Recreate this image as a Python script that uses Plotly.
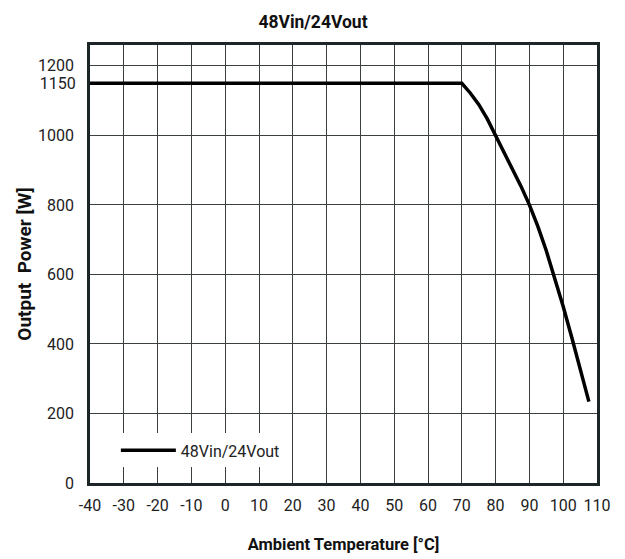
import plotly.graph_objects as go

# Data
temperature_c = [-40, 70, 72.5, 75, 77.5, 80, 82.5, 85, 87.5, 90, 92.5, 95, 97.5, 100, 102.5, 105, 107.6]
output_power_w = [1150, 1150, 1122, 1089, 1048, 1000, 954, 905, 854, 800, 738, 668, 590, 508, 420, 330, 234]
series_name = "48Vin/24Vout"
x_ticks = list(range(-40, 111, 10))
y_grid_ticks = [0, 200, 400, 600, 800, 1000, 1200]
y_extra_ticks = [1150]

FONT = "Roboto, Liberation Sans, Arial, sans-serif"
GRID = "#3a4040"
BORDER = "#1c2626"

fig = go.Figure()
fig.add_trace(go.Scatter(
    x=temperature_c, y=output_power_w, mode="lines", name=series_name,
    line=dict(color="black", width=3.5),
))
# invisible trace to activate the secondary y axis (1150 label)
fig.add_trace(go.Scatter(
    x=[temperature_c[0]], y=[output_power_w[0]], yaxis="y2", mode="lines",
    showlegend=False, hoverinfo="skip", line=dict(color="rgba(0,0,0,0)"),
))

fig.update_layout(
    width=625, height=559,
    margin=dict(l=82, r=36, t=37, b=84),
    paper_bgcolor="white", plot_bgcolor="white",
    font=dict(family=FONT, size=16, color="#222"),
    title=dict(text="<b>48Vin/24Vout</b>", x=0.488, xanchor="center",
               y=0.975, yanchor="middle", font=dict(family=FONT, size=17.5, color="#111")),
    xaxis=dict(
        range=[-40, 110], tickmode="array", tickvals=x_ticks,
        ticktext=[str(v) for v in x_ticks],
        showgrid=True, gridcolor=GRID, gridwidth=1,
        showline=True, linecolor=BORDER, linewidth=2.5, mirror=True,
        ticks="outside", ticklen=6, tickcolor="rgba(0,0,0,0)", zeroline=False,
        automargin=False,
        tickfont=dict(family=FONT, size=16, color="#222"),
        title=dict(text="<b>Ambient Temperature [°C]</b>", standoff=25,
                   font=dict(family=FONT, size=16.5, color="#111")),
    ),
    yaxis=dict(
        range=[0, 1260], tickmode="array", tickvals=y_grid_ticks,
        showgrid=True, gridcolor=GRID, gridwidth=1,
        showline=True, linecolor=BORDER, linewidth=2.5, mirror=True,
        ticks="outside", ticklen=10, tickcolor="rgba(0,0,0,0)", zeroline=False,
        automargin=False,
        tickfont=dict(family=FONT, size=16, color="#222"),
        title=dict(text="<b>Output  Power [W]</b>", standoff=2,
                   font=dict(family=FONT, size=19, color="#111")),
    ),
    yaxis2=dict(
        range=[0, 1260], overlaying="y", side="left", tickmode="array",
        tickvals=y_extra_ticks, showgrid=False, showline=False, zeroline=False,
        ticks="outside", ticklen=10, tickcolor="rgba(0,0,0,0)", automargin=False,
        tickfont=dict(family=FONT, size=16, color="#222"),
    ),
    legend=dict(
        x=0.051, y=0.0355, xanchor="left", yanchor="bottom",
        bgcolor="white", borderwidth=0,
        font=dict(family=FONT, size=16, color="#222"),
        itemwidth=55, tracegroupgap=0,
    ),
    showlegend=True,
)

fig.write_html("out.html")
